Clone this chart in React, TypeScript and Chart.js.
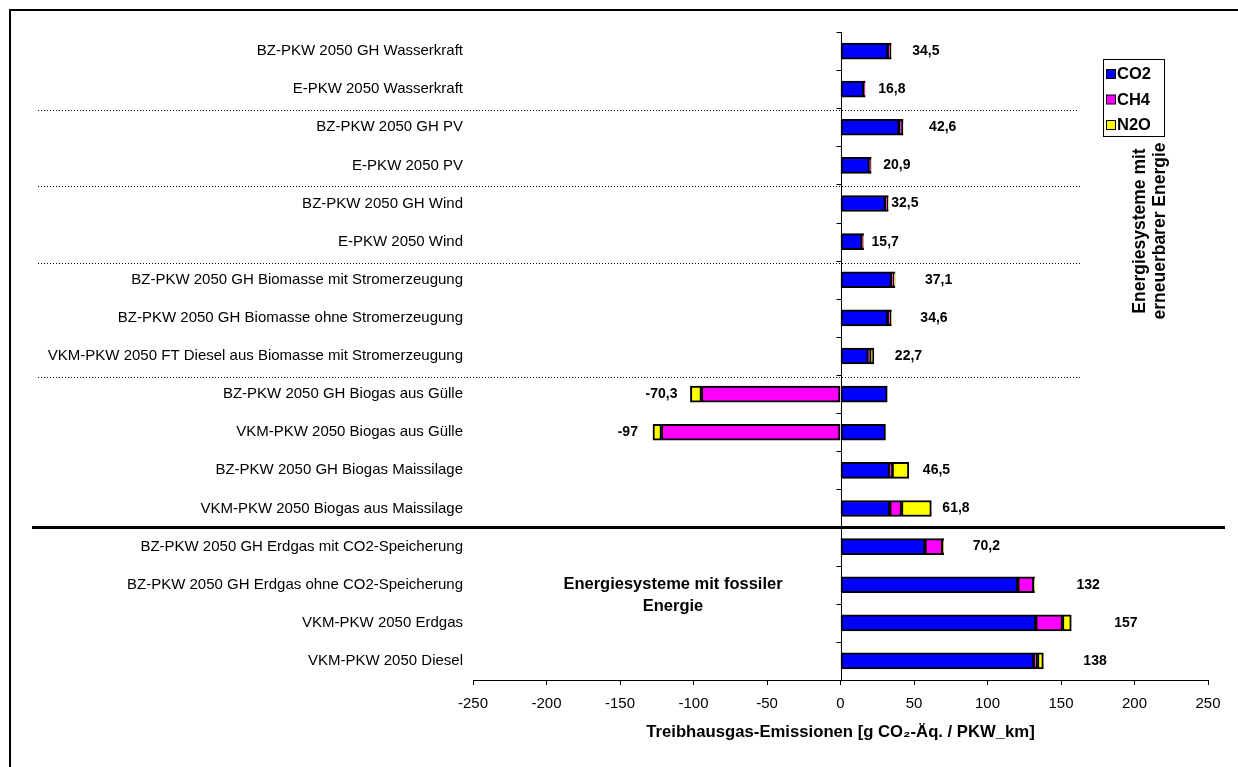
import React, { useEffect, useRef } from "react";
import { Chart, registerables } from "chart.js";

Chart.register(...registerables);

const categories = [
  "BZ-PKW 2050 GH Wasserkraft",
  "E-PKW 2050 Wasserkraft",
  "BZ-PKW 2050 GH PV",
  "E-PKW 2050 PV",
  "BZ-PKW 2050 GH Wind",
  "E-PKW 2050 Wind",
  "BZ-PKW 2050 GH Biomasse mit Stromerzeugung",
  "BZ-PKW 2050 GH Biomasse ohne Stromerzeugung",
  "VKM-PKW 2050 FT Diesel aus Biomasse mit Stromerzeugung",
  "BZ-PKW 2050 GH Biogas aus Gülle",
  "VKM-PKW 2050 Biogas aus Gülle",
  "BZ-PKW 2050 GH Biogas Maissilage",
  "VKM-PKW 2050 Biogas aus Maissilage",
  "BZ-PKW 2050 GH Erdgas mit CO2-Speicherung",
  "BZ-PKW 2050 GH Erdgas ohne CO2-Speicherung",
  "VKM-PKW 2050 Erdgas",
  "VKM-PKW 2050 Diesel",
];

const co2 = [32.3, 15.8, 39.8, 19.6, 30.4, 14.7, 34.5, 32.2, 18.8, 31.8, 30.6, 33.3, 33.5, 57.5, 120.6, 132.8, 131.5];
const ch4 = [2.0, 0.7, 2.5, 0.9, 1.9, 0.7, 1.8, 2.2, 1.2, -94.6, -121.8, 1.8, 8.0, 12.0, 10.9, 18.2, 2.5];
const n2o = [0.2, 0.3, 0.3, 0.4, 0.2, 0.3, 0.8, 0.2, 2.7, -7.5, -5.8, 11.4, 20.3, 0.7, 0.5, 6.0, 4.0];

const totalLabels = ["34,5", "16,8", "42,6", "20,9", "32,5", "15,7", "37,1", "34,6", "22,7", "-70,3", "-97", "46,5", "61,8", "70,2", "132", "157", "138"];

const seriesNames = ["CO2", "CH4", "N2O"];
const seriesColors = ["#0000FF", "#FF00FF", "#FFFF00"];

// layout helpers (not data)
const labelGaps = [21, 13, 26, 12, 3, 8, 30, 29, 21, 13, 15, 14, 11, 29, 42, 43, 40];
const dottedAfter = [1, 3, 5, 8];
const thickAfter = 12;

const FONT = "'Liberation Sans', Arial, Helvetica, sans-serif";

export default function App() {
  const ref = useRef<HTMLCanvasElement>(null);

  useEffect(() => {
    const canvas = ref.current!;
    const overlay = {
      id: "overlay",
      beforeDraw(chart: any) {
        const ctx = chart.ctx;
        ctx.save();
        ctx.fillStyle = "#fff";
        ctx.fillRect(0, 0, chart.width, chart.height);
        ctx.strokeStyle = "#000";
        ctx.lineWidth = 2;
        ctx.strokeRect(10, 10, chart.width + 20, chart.height + 20);
        ctx.restore();
      },
      afterDatasetsDraw(chart: any) {
        const ctx = chart.ctx;
        const xs = chart.scales.x;
        const ys = chart.scales.y;
        const area = chart.chartArea;
        const step = ys.getPixelForValue(1) - ys.getPixelForValue(0);
        const x0 = Math.round(xs.getPixelForValue(0)) + 0.5;
        ctx.save();
        // zero axis line with ticks
        ctx.strokeStyle = "#000";
        ctx.lineWidth = 1;
        ctx.beginPath();
        ctx.moveTo(x0, area.top);
        ctx.lineTo(x0, area.bottom);
        for (let i = 0; i <= categories.length; i++) {
          const y = Math.round(ys.getPixelForValue(i) - step / 2) + 0.5;
          ctx.moveTo(x0 - 5, y);
          ctx.lineTo(x0, y);
        }
        ctx.stroke();
        // dotted separators
        ctx.setLineDash([1, 2]);
        dottedAfter.forEach((i, k) => {
          const y = Math.round(ys.getPixelForValue(i) + step / 2) + 2.5;
          ctx.beginPath();
          ctx.moveTo(38, y);
          ctx.lineTo(k === 0 ? 1077 : 1082, y);
          ctx.stroke();
        });
        ctx.setLineDash([]);
        // thick separator
        {
          const y = Math.round(ys.getPixelForValue(thickAfter) + step / 2) - 0.5;
          ctx.lineWidth = 3;
          ctx.beginPath();
          ctx.moveTo(32, y);
          ctx.lineTo(1225, y);
          ctx.stroke();
        }
        // total labels
        ctx.fillStyle = "#000";
        ctx.font = `bold 14px ${FONT}`;
        ctx.textBaseline = "middle";
        categories.forEach((_, i) => {
          const vals = [co2[i], ch4[i], n2o[i]];
          const pos = vals.filter((v) => v > 0).reduce((a, b) => a + b, 0);
          const neg = vals.filter((v) => v < 0).reduce((a, b) => a + b, 0);
          const y = ys.getPixelForValue(i);
          if (totalLabels[i].startsWith("-")) {
            ctx.textAlign = "right";
            ctx.fillText(totalLabels[i], xs.getPixelForValue(neg) - labelGaps[i], y);
          } else {
            ctx.textAlign = "left";
            ctx.fillText(totalLabels[i], xs.getPixelForValue(pos) + labelGaps[i], y);
          }
        });
        ctx.restore();
      },
      afterDraw(chart: any) {
        const ctx = chart.ctx;
        ctx.save();
        // legend
        ctx.strokeStyle = "#000";
        ctx.lineWidth = 1;
        ctx.fillStyle = "#fff";
        ctx.fillRect(1103.5, 59.5, 61, 77);
        ctx.strokeRect(1103.5, 59.5, 61, 77);
        ctx.font = `bold 16.5px ${FONT}`;
        ctx.textBaseline = "middle";
        ctx.textAlign = "left";
        seriesNames.forEach((name, i) => {
          const cy = 74 + i * 25.5;
          ctx.fillStyle = seriesColors[i];
          ctx.fillRect(1106.5, cy - 4.5, 9, 9);
          ctx.strokeRect(1106.5, cy - 4.5, 9, 9);
          ctx.fillStyle = "#000";
          ctx.fillText(name, 1117, cy + 0.5);
        });
        // annotation: fossil
        ctx.font = `bold 16.5px ${FONT}`;
        ctx.textAlign = "center";
        ctx.fillText("Energiesysteme mit fossiler", 673, 584);
        ctx.fillText("Energie", 673, 606);
        // annotation: renewable (rotated)
        ctx.font = `bold 17.5px ${FONT}`;
        ctx.translate(1150, 231);
        ctx.rotate(-Math.PI / 2);
        ctx.fillText("Energiesysteme mit", 0, -10);
        ctx.fillText("erneuerbarer Energie", 0, 10);
        ctx.restore();
      },
    };

    const chart = new Chart(canvas, {
      type: "bar",
      data: {
        labels: categories,
        datasets: [co2, ch4, n2o].map((d, i) => ({
          label: seriesNames[i],
          data: d,
          backgroundColor: seriesColors[i],
          borderColor: "#000",
          borderWidth: 2,
          borderSkipped: false,
          barThickness: 16,
        })),
      },
      options: {
        indexAxis: "y",
        responsive: false,
        animation: false,
        layout: { padding: { left: 10, right: 30, top: 32, bottom: 0 } },
        plugins: { legend: { display: false }, tooltip: { enabled: false } },
        scales: {
          x: {
            type: "linear",
            stacked: true,
            min: -250,
            max: 250,
            ticks: {
              stepSize: 50,
              color: "#000",
              font: { family: FONT, size: 15 },
              padding: 10,
              callback: (v: any) => String(v),
            },
            grid: { drawOnChartArea: false, drawTicks: true, tickLength: 5, color: "#000" },
            border: { display: true, color: "#000", width: 1 },
            title: {
              display: true,
              text: "Treibhausgas-Emissionen [g CO₂-Äq. / PKW_km]",
              color: "#000",
              font: { family: FONT, size: 16.7, weight: "bold" },
              padding: { top: 0, bottom: 25 },
            },
            afterFit: (s: any) => {
              s.height = 87;
            },
          },
          y: {
            type: "category",
            stacked: true,
            ticks: { color: "#000", font: { family: FONT, size: 15 }, padding: 10, autoSkip: false },
            grid: { display: false, drawTicks: false },
            border: { display: false },
            afterFit: (s: any) => {
              s.width = 463;
            },
          },
        },
      },
      plugins: [overlay],
    } as any);
    return () => chart.destroy();
  }, []);

  return (
    <div style={{ position: "absolute", left: 0, top: 0, width: 1238, height: 767 }}>
      <canvas ref={ref} width={1238} height={767} style={{ display: "block" }} />
    </div>
  );
}
